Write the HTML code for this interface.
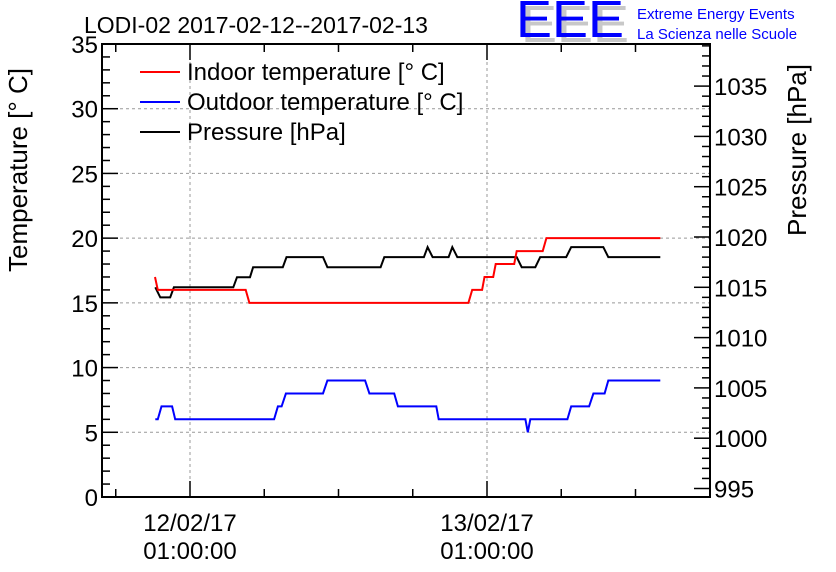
<!DOCTYPE html>
<html><head><meta charset="utf-8"><style>
body{margin:0;background:#fff;}
svg{display:block;font-family:"Liberation Sans",sans-serif;}
</style></head><body>
<svg id="chart" width="836" height="572" viewBox="0 0 836 572" xmlns="http://www.w3.org/2000/svg">
<rect width="836" height="572" fill="#fff"/>
<text x="84" y="33" font-size="23">LODI-02 2017-02-12--2017-02-13</text>
<g font-size="52">
<text x="521" y="42" fill="#c8c8c8" textLength="108" lengthAdjust="spacingAndGlyphs">EEE</text>
<text x="516" y="37" fill="#0000ff" textLength="108" lengthAdjust="spacingAndGlyphs">EEE</text>
</g>
<text x="637" y="19" font-size="15" fill="#0000ff">Extreme Energy Events</text>
<text x="637" y="39" font-size="15" fill="#0000ff">La Scienza nelle Scuole</text>
<g id="grid"></g>
<g id="axes"></g>
<g id="series"></g>
<text transform="translate(27,272) rotate(-90)" text-anchor="start" font-size="26">Temperature [° C]</text>
<text transform="translate(806,236) rotate(-90)" text-anchor="start" font-size="26">Pressure [hPa]</text>
<g font-size="24">
<g><line x1="140" y1="72" x2="180" y2="72" stroke="#f00" stroke-width="2"/><text x="187" y="80">Indoor temperature [° C]</text></g>
<g><line x1="140" y1="102" x2="180" y2="102" stroke="#00f" stroke-width="2"/><text x="187" y="110">Outdoor temperature [° C]</text></g>
<g><line x1="140" y1="132" x2="180" y2="132" stroke="#000" stroke-width="2"/><text x="187" y="140">Pressure [hPa]</text></g>
</g>
</svg>
<script>
// hours relative to 12/02/17 01:00:00
const indoorHours=[-2.83,-2.6,4.5,4.8,22.5,22.8,23.6,23.8,24.5,24.7,26.2,26.4,28.5,28.8,38];
const indoorTemp=[17,16,16,15,15,16,16,17,17,18,18,19,19,20,20];
const outdoorHours=[-2.8,-2.6,-2.3,-1.45,-1.2,6.8,7.1,7.4,7.75,10.75,11.1,14.15,14.5,16.5,16.8,19.9,20.1,27.1,27.3,27.5,30.5,30.8,32.25,32.6,33.5,33.8,38];
const outdoorTemp=[6,6,7,7,6,6,7,7,8,8,9,9,8,8,7,7,6,6,5,6,6,7,7,8,8,9,9];
const pressHours=[-2.8,-2.4,-1.6,-1.3,3.5,3.8,4.85,5.1,7.5,7.8,10.75,11.1,15.4,15.7,18.9,19.2,19.6,20.9,21.2,21.6,26.4,26.8,27.9,28.3,30.4,30.8,33.4,33.8,38];
const pressVal=[1015,1014,1014,1015,1015,1016,1016,1017,1017,1018,1018,1017,1017,1018,1018,1019,1018,1018,1019,1018,1018,1017,1017,1018,1018,1019,1019,1018,1018];
const tempTicks=[0,5,10,15,20,25,30,35];
const pressTicks=[995,1000,1005,1010,1015,1020,1025,1030,1035];
const dateTicks=[0,24];
const dateLabels=[["12/02/17","01:00:00"],["13/02/17","01:00:00"]];

const L=102,R=710,T=44,B=497;
const x=h=>190+h*12.375;
const yT=t=>B-(t/35)*(B-T);
const yP=p=>237-(p-1020)*10.06;
const NS="http://www.w3.org/2000/svg";
function mk(tag,parent,attrs){const e=document.createElementNS(NS,tag);for(const k in attrs)e.setAttribute(k,attrs[k]);parent.appendChild(e);return e;}
const grid=document.getElementById('grid'),axes=document.getElementById('axes'),ser=document.getElementById('series');
tempTicks.forEach(t=>{if(t>0&&t<35){const g=mk('line',grid,{x1:L,x2:R,y1:yT(t),y2:yT(t),stroke:'#999','stroke-dasharray':'3,3','stroke-width':1});

}});
dateTicks.forEach(h=>{const g=mk('line',grid,{x1:x(h),x2:x(h),y1:T,y2:B,stroke:'#999','stroke-dasharray':'3,3','stroke-width':1});

});
const frame=mk('rect',axes,{x:L,y:T,width:R-L,height:B-T,fill:'none',stroke:'#000','stroke-width':2});


for(let t=0;t<=35;t++){const big=t%5===0;mk('line',axes,{x1:L,x2:L+(big?16:8),y1:yT(t),y2:yT(t),stroke:'#000','stroke-width':1.5});}
tempTicks.forEach(t=>{const tx=mk('text',axes,{x:98,y:yT(t)+9,'text-anchor':'end','font-size':24});tx.textContent=t;

});
for(let p=995;p<=1039;p++){const big=p%5===0;mk('line',axes,{x1:R,x2:R-(big?16:8),y1:yP(p),y2:yP(p),stroke:'#000','stroke-width':1.5});}
pressTicks.forEach(p=>{const tx=mk('text',axes,{x:714,y:yP(p)+9,'font-size':24});tx.textContent=p;

});
for(let h=-6;h<=42;h+=6){const xx=x(h);if(xx<L||xx>R)continue;const big=(h%24===0);
mk('line',axes,{x1:xx,x2:xx,y1:B,y2:B-(big?16:8),stroke:'#000','stroke-width':1.5});
mk('line',axes,{x1:xx,x2:xx,y1:T,y2:T+(big?16:8),stroke:'#000','stroke-width':1.5});}
dateTicks.forEach((h,i)=>{dateLabels[i].forEach((s,j)=>{const tx=mk('text',axes,{x:x(h),y:531+j*28,'text-anchor':'middle','font-size':24});tx.textContent=s;

});});
function line(hs,vs,yf,color,name){const pts=hs.map((h,i)=>x(h).toFixed(1)+','+yf(vs[i]).toFixed(1)).join(' ');
const pl=mk('polyline',ser,{points:pts,fill:'none',stroke:color,'stroke-width':2});

}
line(pressHours,pressVal,yP,'#000','pressure-line');
line(outdoorHours,outdoorTemp,yT,'#00f','outdoor-temperature-line');
line(indoorHours,indoorTemp,yT,'#f00','indoor-temperature-line');
</script>
</body></html>
